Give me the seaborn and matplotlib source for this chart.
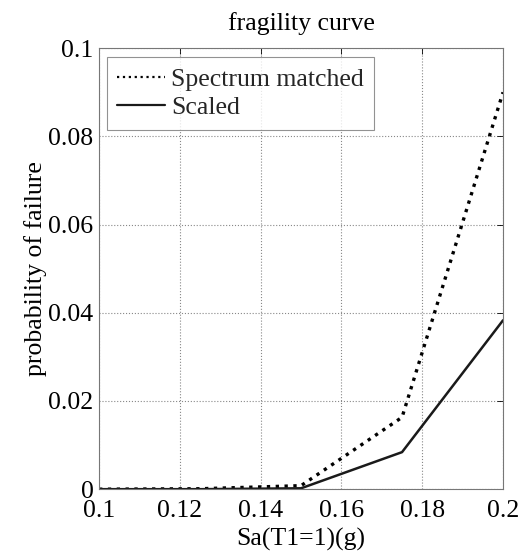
import matplotlib
matplotlib.use("Agg")
import matplotlib.pyplot as plt
import seaborn as sns
import pandas as pd

sa = [0.1, 0.125, 0.15, 0.175, 0.2]
spectrum_matched = [0.0, 0.0001, 0.0008, 0.0163, 0.090]
scaled = [0.0, 0.0, 0.0002, 0.0084, 0.0383]
x_ticks = [0.1, 0.12, 0.14, 0.16, 0.18, 0.2]
x_ticklabels = ["0.1", "0.12", "0.14", "0.16", "0.18", "0.2"]
y_ticks = [0, 0.02, 0.04, 0.06, 0.08, 0.1]
y_ticklabels = ["0", "0.02", "0.04", "0.06", "0.08", "0.1"]

sns.set_theme(style="white")
plt.rcParams['font.family'] = ['Liberation Serif', 'DejaVu Serif']

df = pd.DataFrame({"x": sa + sa,
                   "y": spectrum_matched + scaled,
                   "series": ["Spectrum matched"] * len(sa) + ["Scaled"] * len(sa)})

fig = plt.figure(figsize=(5.24, 5.54), dpi=100)
ax = fig.add_axes([0.189, 0.117, 0.771, 0.796])

sns.lineplot(data=df[df.series == "Spectrum matched"], x="x", y="y", ax=ax,
             color="black", linestyle=":", linewidth=2.4, label="Spectrum matched")
sns.lineplot(data=df[df.series == "Scaled"], x="x", y="y", ax=ax,
             color="#1a1a1a", linestyle="-", linewidth=1.8, label="Scaled")

ax.set_xlim(0.1, 0.2)
ax.set_ylim(0, 0.1)
ax.set_xticks(x_ticks)
ax.set_xticklabels(x_ticklabels)
ax.set_yticks(y_ticks)
ax.set_yticklabels(y_ticklabels)
ax.tick_params(direction="in", labelsize=18.5, length=4, colors="black",
               top=True, right=True, width=0.6)
ax.tick_params(axis="x", pad=8)
ax.tick_params(axis="y", pad=4)
ax.grid(True, linestyle=":", color="#888888", linewidth=0.8)
for s in ax.spines.values():
    s.set_color("#777777")
    s.set_linewidth(0.8)

ax.set_xlabel("Sa(T1=1)(g)", fontsize=18.5, labelpad=4, color="black")
ax.set_ylabel("probability of failure", fontsize=18.5, labelpad=1, color="black")
ax.set_title("fragility curve", fontsize=18.5, pad=13, color="black")

leg = ax.legend(loc="upper left", bbox_to_anchor=(0.02, 0.979), fontsize=18.5,
                frameon=True, fancybox=False, edgecolor="#777777",
                handlelength=1.85, handletextpad=0.25, borderpad=0.4,
                labelspacing=0.22, borderaxespad=0.0)
leg.get_frame().set_linewidth(0.8)
for line in leg.get_lines():
    line.set_linewidth(1.6)

fig.savefig("out.png", dpi=100)
